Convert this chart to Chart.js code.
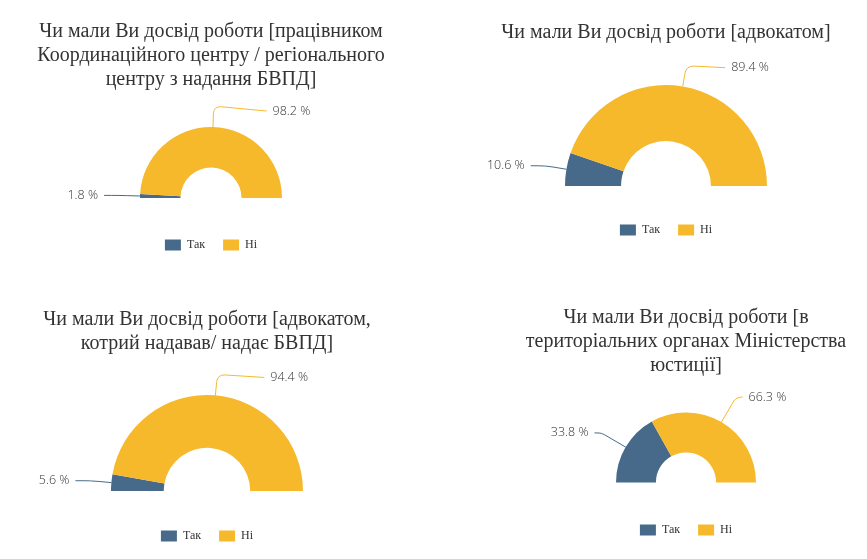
<!DOCTYPE html>
<html>
<head>
<meta charset="utf-8">
<script src="https://cdn.jsdelivr.net/npm/chart.js@4.4.1/dist/chart.umd.min.js"></script>
<style>
  body { margin: 0; background: #fff; }
  #wrap { position: relative; width: 867px; height: 559px; overflow: hidden; }
  canvas { position: absolute; }
</style>
</head>
<body>
<div id="wrap">
  <canvas id="c1" width="420" height="251" style="left:1px;top:10px"></canvas>
  <canvas id="c2" width="400" height="235" style="left:466px;top:11px"></canvas>
  <canvas id="c3" width="414" height="254" style="left:0px;top:298px"></canvas>
  <canvas id="c4" width="340" height="250" style="left:516px;top:296px"></canvas>
</div>
<script>
const categories = ['Так', 'Ні'];
const colors = ['#476a8a', '#f6b92b'];

const title1 = ['Чи мали Ви досвід роботи [працівником', 'Координаційного центру / регіонального', 'центру з надання БВПД]'];
const title2 = ['Чи мали Ви досвід роботи [адвокатом]'];
const title3 = ['Чи мали Ви досвід роботи [адвокатом,', 'котрий надавав/ надає БВПД]'];
const title4 = ['Чи мали Ви досвід роботи [в', 'територіальних органах Міністерства', 'юстиції]'];

const values1 = [1.8, 98.2];
const values2 = [10.6, 89.4];
const values3 = [5.6, 94.4];
const values4 = [33.8, 66.3];

// draws "xx.x %" labels with bent leader lines outside each slice
const leaderLabels = {
  id: 'leaderLabels',
  afterDatasetsDraw(chart, args, o) {
    const ctx = chart.ctx;
    const meta = chart.getDatasetMeta(0);
    const data = chart.data.datasets[0].data;
    ctx.save();
    ctx.font = '300 12.5px "Open Sans", sans-serif';
    ctx.textBaseline = 'middle';
    ctx.lineWidth = 1;
    meta.data.forEach((arc, i) => {
      const p = arc.getProps(['x', 'y', 'startAngle', 'endAngle', 'outerRadius'], true);
      const mid = (p.startAngle + p.endAngle) / 2;
      const dx = Math.cos(mid), dy = Math.sin(mid);
      const side = dx >= 0 ? 1 : -1;
      const len2 = side > 0 ? o.len2R : o.len2L;
      const drop = side > 0 ? o.dropR : 0;
      const x0 = p.x + dx * p.outerRadius, y0 = p.y + dy * p.outerRadius;
      const x1 = x0 + dx * o.len1, y1 = y0 + dy * o.len1;
      const x2 = x1 + side * len2, y2 = y1 + drop;
      const rr = Math.min(8, len2 / 2, o.len1 / 2);
      ctx.strokeStyle = colors[i];
      ctx.beginPath();
      ctx.moveTo(x0, y0);
      ctx.lineTo(x1 - dx * rr, y1 - dy * rr);
      ctx.quadraticCurveTo(x1, y1, x1 + side * rr, y1 + drop * rr / len2);
      ctx.lineTo(x2, y2);
      ctx.stroke();
      ctx.fillStyle = '#333';
      ctx.textAlign = side > 0 ? 'left' : 'right';
      ctx.fillText(data[i].toFixed(1) + ' %', x2 + side * 6, y2);
    });
    ctx.restore();
  }
};

function makeChart(id, title, values, radius, cutout, padBottom, leader) {
  return new Chart(document.getElementById(id), {
    type: 'doughnut',
    data: {
      labels: categories,
      datasets: [{
        data: values,
        backgroundColor: colors,
        borderWidth: 0
      }]
    },
    options: {
      responsive: false,
      animation: false,
      rotation: -90,
      circumference: 180,
      radius: radius,
      cutout: cutout,
      layout: { padding: 0 },
      plugins: {
        title: {
          display: true,
          text: title,
          color: '#333',
          font: { family: '"Liberation Serif", "Times New Roman", serif', size: 20, weight: 'normal', lineHeight: 1.2 },
          padding: { top: 10, bottom: padBottom }
        },
        legend: {
          position: 'bottom',
          labels: {
            color: '#333',
            font: { family: '"Liberation Serif", "Times New Roman", serif', size: 12 },
            boxWidth: 16,
            boxHeight: 11,
            padding: 18
          }
        },
        tooltip: { enabled: false },
        leaderLabels: leader
      }
    },
    plugins: [leaderLabels]
  });
}

makeChart('c1', title1, values1, 71, '43%', 12, { len1: 21, len2L: 15, len2R: 53, dropR: 5 });
makeChart('c2', title2, values2, 101, '44.5%', 20, { len1: 21, len2L: 15, len2R: 39, dropR: 2 });
makeChart('c3', title3, values3, 96, '45%', 18, { len1: 21, len2L: 15, len2R: 47, dropR: 3 });
makeChart('c4', title4, values4, 70, '43%', 11, { len1: 28, len2L: 7, len2R: 7, dropR: -1 });
</script>
</body>
</html>
